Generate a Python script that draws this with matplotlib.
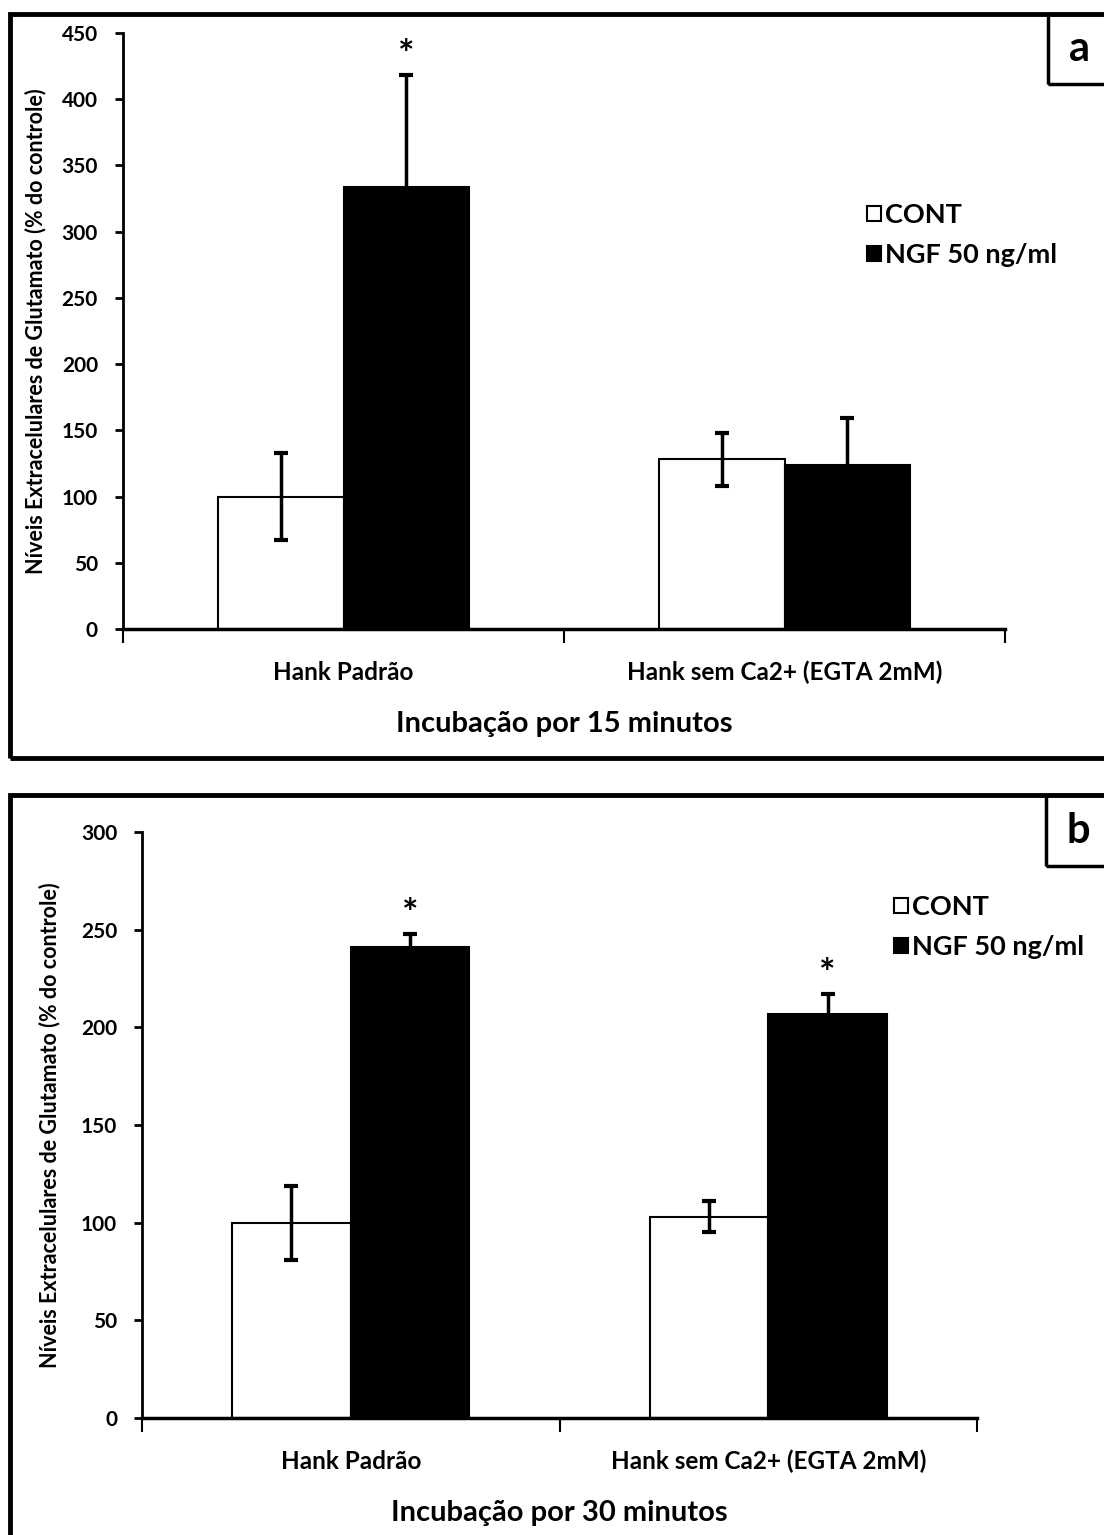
import numpy as np
import matplotlib.pyplot as plt
from matplotlib.patches import Rectangle, Patch

# data
categories = ['Hank Padrão', 'Hank sem Ca2+ (EGTA 2mM)']
series_names = ['CONT', 'NGF 50 ng/ml']

cont_15 = [100, 128]
cont_15_err = [33, 20]
ngf_15 = [334, 124]
ngf_15_err = [84, 35]
star_15 = [True, False]

cont_30 = [100, 103]
cont_30_err = [19, 8]
ngf_30 = [241, 207]
ngf_30_err = [7, 10]
star_30 = [True, True]

W, H = 1104, 1535
plt.rcParams['font.family'] = ['Lato', 'DejaVu Sans']
plt.rcParams['font.weight'] = 'bold'

fig = plt.figure(figsize=(W / 100, H / 100), dpi=100)


def fig_rect(x0, y0, x1, y1):
    # pixel box (top-left origin) to figure fractions
    return [x0 / W, 1 - y1 / H, (x1 - x0) / W, (y1 - y0) / H]


def draw_panel(box, cont, cont_err, ngf, ngf_err, stars, ymax, step,
               xlabel, letter, frame_top, frame_bottom, letter_x, letter_bottom,
               leg_pos, ylab_x):
    # outer frame of the panel
    fig.patches.append(Rectangle((10 / W, 1 - frame_bottom / H), (W + 20) / W,
                                 (frame_bottom - frame_top) / H,
                                 transform=fig.transFigure, fill=False,
                                 lw=3.5, ec='black', clip_on=False))
    fig.patches.append(Rectangle((letter_x / W, 1 - letter_bottom / H), (W + 20 - letter_x) / W,
                                 (letter_bottom - frame_top) / H,
                                 transform=fig.transFigure, fill=False,
                                 lw=2.5, ec='black', clip_on=False))
    fig.text((letter_x + 32) / W, 1 - (frame_top + letter_bottom) / 2 / H, letter,
             ha='center', va='center', fontsize=30, fontweight='bold')

    ax = fig.add_axes(fig_rect(*box))
    x = np.arange(len(categories))
    w = 0.284
    ekw = dict(ecolor='black', elinewidth=2.5, capsize=5, capthick=3)
    ax.bar(x - w / 2, cont, w, color='white', edgecolor='black', lw=1.5,
           yerr=cont_err, error_kw=ekw, label=series_names[0], zorder=2)
    ax.bar(x + w / 2, ngf, w, color='black', edgecolor='black', lw=1.5,
           yerr=ngf_err, error_kw=ekw, label=series_names[1], zorder=2)
    for i, s in enumerate(stars):
        if s:
            ax.annotate('*', (x[i] + w / 2, ngf[i] + ngf_err[i]),
                        xytext=(0, 14), textcoords='offset points',
                        ha='center', va='center', fontsize=28, fontweight='bold')

    ax.set_xlim(-0.5, len(categories) - 0.5)
    ax.set_ylim(0, ymax)
    ax.set_yticks(np.arange(0, ymax + 1, step))
    ax.set_xticks(x)
    ax.set_xticklabels(categories, fontsize=17.5, fontweight='bold')
    ax.set_xticks(np.arange(-0.5, len(categories)), minor=True)
    ax.tick_params(axis='x', which='major', length=0, pad=23)
    ax.tick_params(axis='x', which='minor', length=10, width=1.5, direction='out')
    ax.tick_params(axis='y', length=6, width=2, direction='out', labelsize=15, pad=12)
    for lab in ax.get_yticklabels():
        lab.set_fontweight('bold')
    for sp in ['top', 'right']:
        ax.spines[sp].set_visible(False)
    ax.spines['left'].set_linewidth(2)
    ax.spines['bottom'].set_linewidth(2.5)
    ax.set_xlabel(xlabel, fontsize=21, fontweight='bold', labelpad=19)

    fig.text(ylab_x / W, 1 - (box[1] + box[3]) / 2 / H,
             'Níveis Extracelulares de Glutamato (% do controle)',
             rotation=90, ha='center', va='center', fontsize=15.5, fontweight='bold')

    handles = [Patch(facecolor='white', edgecolor='black', lw=1.5),
               Patch(facecolor='black', edgecolor='black', lw=1.5)]
    fig.legend(handles, series_names, loc='center left',
               bbox_to_anchor=(leg_pos[0] / W, 1 - leg_pos[1] / H),
               frameon=False, handlelength=0.5, handleheight=0.5,
               handletextpad=0.15, labelspacing=0.6,
               prop={'weight': 'bold', 'size': 19.5})
    return ax


draw_panel((123, 33, 1005, 629), cont_15, cont_15_err, ngf_15, ngf_15_err, star_15,
           450, 50, 'Incubação por 15 minutos', 'a', 14, 758, 1048, 84,
           (843, 235), 36)
draw_panel((142, 832, 977, 1418), cont_30, cont_30_err, ngf_30, ngf_30_err, star_30,
           300, 50, 'Incubação por 30 minutos', 'b', 795, 1560, 1046, 866,
           (870, 927), 50)

plt.savefig('out.png', dpi=100)
